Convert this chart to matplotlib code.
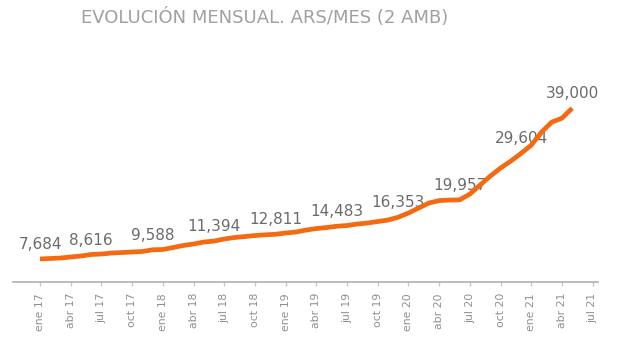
import matplotlib
matplotlib.use("Agg")
import matplotlib.pyplot as plt

# Monthly rent, 2-room apartments, ene 2017 .. may 2021 (ARS/month)
rent = [
    7684, 7780, 7880, 8090, 8300, 8616, 8710, 8920, 9020, 9130, 9230, 9588,
    9650, 10060, 10480, 10790, 11200, 11394, 11830, 12140, 12340, 12550, 12700, 12811,
    13070, 13280, 13690, 14000, 14210, 14483, 14630, 14940, 15150, 15460, 15770, 16353,
    17220, 18260, 19300, 19810, 19920, 19957, 21160, 23030, 24900, 26560, 28010, 29604,
    31330, 34020, 36100, 36930, 39000,
]

# months that carry a value label
labelled = [0, 5, 11, 17, 23, 29, 35, 41, 47, 52]

month_names = ["ene", "abr", "jul", "oct"]
years = ["17", "18", "19", "20", "21"]
tick_labels = [f"{m} {y}" for y in years for m in month_names][:19]

orange = "#F36A12"
grey_text = "#6b6b6b"

fig = plt.figure(figsize=(6.4, 3.38), dpi=100)
ax = fig.add_axes([0.0203, 0.1657, 0.9137, 0.656])

x = list(range(len(rent)))
# line sits above the value labels
ax.plot(x, rent, color=orange, linewidth=3.4, solid_capstyle="butt",
        solid_joinstyle="round", zorder=4)

for i in labelled:
    ax.annotate(f"{rent[i]:,}", (i, rent[i]), xytext=(0, 5),
                textcoords="offset points", ha="center", va="bottom",
                fontsize=11, color=grey_text, zorder=3)

ax.set_xlim(-2.64, 54.5)
ax.set_ylim(2900, 48960)

ax.set_xticks(range(0, 3 * len(tick_labels), 3))
ax.set_xticklabels(tick_labels, rotation=90, fontsize=7.8, color="#8f8f8f")
ax.tick_params(axis="x", length=3, width=1, color="#c8c8c8", pad=5)
ax.set_yticks([])

for side in ["top", "right", "left"]:
    ax.spines[side].set_visible(False)
ax.spines["bottom"].set_color("#b0b0b0")
ax.spines["bottom"].set_linewidth(1.2)

fig.text(0.414, 0.948, "EVOLUCIÓN MENSUAL. ARS/MES (2 AMB)", ha="center",
         va="center", fontsize=13, color="#a0a0a0")

fig.savefig("out.png", dpi=100)
